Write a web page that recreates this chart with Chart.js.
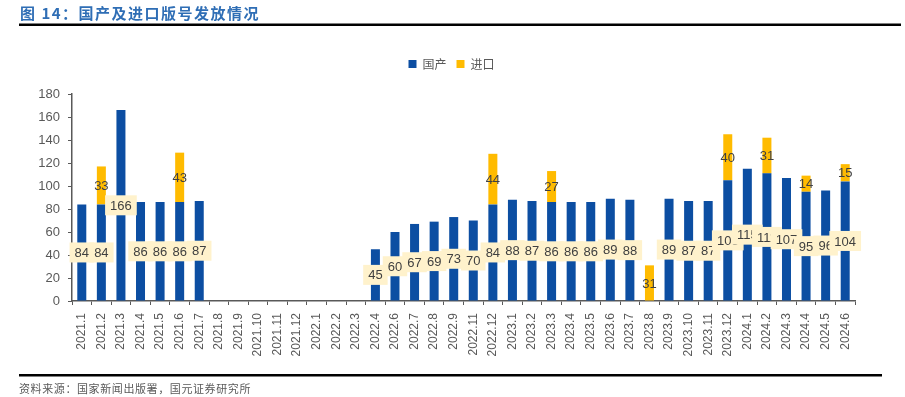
<!DOCTYPE html>
<html>
<head>
<meta charset="utf-8">
<script src="https://cdn.jsdelivr.net/npm/chart.js@4/dist/chart.umd.min.js"></script>
<style>
  html, body { margin: 0; padding: 0; background: #fff; }
  canvas { display: block; }
</style>
</head>
<body>
<canvas id="chart" width="905" height="397"></canvas>
<script>
// months shown on the x axis (2022.5 and 2022.10 are not in the source)
const months = [
    '2021.1', '2021.2', '2021.3', '2021.4', '2021.5', '2021.6', '2021.7', '2021.8', '2021.9', '2021.10', '2021.11', '2021.12',
    '2022.1', '2022.2', '2022.3', '2022.4', '2022.6', '2022.7', '2022.8', '2022.9', '2022.11', '2022.12',
    '2023.1', '2023.2', '2023.3', '2023.4', '2023.5', '2023.6', '2023.7', '2023.8', '2023.9', '2023.10', '2023.11', '2023.12',
    '2024.1', '2024.2', '2024.3', '2024.4', '2024.5', '2024.6'
];

// 国产 (domestic) licences per month
const domestic = [
    84, 84, 166, 86, 86, 86, 87, null, null, null, null, null,
    null, null, null, 45, 60, 67, 69, 73, 70, 84,
    88, 87, 86, 86, 86, 89, 88, null, 89, 87, 87, 105,
    115, 111, 107, 95, 96, 104
];

// 进口 (imported) licences per month
const imported = [
    null, 33, null, null, null, 43, null, null, null, null, null, null,
    null, null, null, null, null, null, null, null, null, 44,
    null, null, 27, null, null, null, null, 31, null, null, null, 40,
    null, 31, null, 14, null, 15
];

const yTicks = { min: 0, max: 180, step: 20 };

const FONT = "'Liberation Sans', Arial, sans-serif";
const CJK = "'Noto Sans CJK SC', 'Noto Sans', sans-serif";

// Title, rules and source line around the chart
const framePlugin = {
    id: 'frame',
    beforeDraw (chart) {
        const ctx = chart.ctx;
        ctx.save();
        ctx.fillStyle = '#ffffff';
        ctx.fillRect(0, 0, chart.width, chart.height);
        ctx.restore();
    },
    afterDraw (chart) {
        const ctx = chart.ctx;
        ctx.save();
        // title
        ctx.fillStyle = '#2F6EB5';
        ctx.font = `bold 15px ${CJK}`;
        ctx.letterSpacing = '1.5px';
        ctx.textBaseline = 'alphabetic';
        ctx.fillText('图 14：国产及进口版号发放情况', 20, 19);
        ctx.letterSpacing = '0px';
        // rules
        ctx.fillStyle = '#000000';
        ctx.fillRect(19, 23.5, 882, 2.5);
        ctx.fillRect(19, 374, 863, 2.5);
        // source
        ctx.fillStyle = '#595959';
        ctx.font = `11px ${CJK}`;
        ctx.letterSpacing = '0.6px';
        ctx.textBaseline = 'middle';
        ctx.fillText('资料来源：国家新闻出版署，国元证券研究所', 19, 389);
        ctx.restore();
    }
};

// Extra room under the legend, and legend nudged right over the plot
const legendGapPlugin = {
    id: 'legendGap',
    beforeLayout (chart) {
        const legend = chart.legend;
        if (!legend || legend._gapWrapped) return;
        const fit = legend.fit;
        legend.fit = function () {
            fit.call(this);
            this.height += 14;
        };
        legend._gapWrapped = true;
    },
    afterLayout (chart) {
        if (chart.legend) chart.legend.left += 48;
    }
};

// Value labels: domestic ones on a beige box, imported ones plain
const labelPlugin = {
    id: 'valueLabels',
    afterDatasetsDraw (chart) {
        const ctx = chart.ctx;
        ctx.save();
        ctx.font = `13px ${FONT}`;
        ctx.textAlign = 'center';
        ctx.textBaseline = 'middle';
        chart.data.datasets.forEach((ds, di) => {
            const meta = chart.getDatasetMeta(di);
            meta.data.forEach((bar, i) => {
                const v = ds.data[i];
                if (v === null || v === undefined) return;
                const cy = (bar.y + bar.base) / 2;
                const text = String(v);
                if (di === 0) {
                    const w = ctx.measureText(text).width + 10;
                    const h = 20;
                    ctx.fillStyle = '#FFF2CC';
                    ctx.fillRect(bar.x - w / 2, cy - h / 2, w, h);
                }
                ctx.fillStyle = '#404040';
                ctx.fillText(text, bar.x, cy + 1);
            });
        });
        ctx.restore();
    }
};

const chart = new Chart(document.getElementById('chart').getContext('2d'), {
    type: 'bar',
    data: {
        labels: months,
        datasets: [
            {
                label: '国产',
                data: domestic,
                backgroundColor: '#0C4EA2',
                barPercentage: 0.46,
                categoryPercentage: 1.0
            },
            {
                label: '进口',
                data: imported,
                backgroundColor: '#FFBB00',
                barPercentage: 0.46,
                categoryPercentage: 1.0
            }
        ]
    },
    options: {
        responsive: false,
        animation: false,
        devicePixelRatio: 1,
        layout: {
            padding: { top: 48, right: 50, bottom: 36, left: 0 }
        },
        plugins: {
            legend: {
                display: true,
                position: 'top',
                align: 'center',
                labels: {
                    boxWidth: 8,
                    boxHeight: 8,
                    padding: 10,
                    color: '#595959',
                    font: { family: CJK, size: 12 }
                }
            },
            tooltip: { enabled: false }
        },
        scales: {
            x: {
                stacked: true,
                grid: {
                    display: true,
                    drawOnChartArea: false,
                    drawTicks: true,
                    tickLength: 4,
                    color: '#595959',
                    offset: true
                },
                border: { display: true, color: '#595959', width: 1.5 },
                ticks: {
                    autoSkip: false,
                    minRotation: 90,
                    maxRotation: 90,
                    padding: 8,
                    color: '#595959',
                    font: { family: FONT, size: 12 }
                },
                afterFit (scale) { scale.height = 60; }
            },
            y: {
                stacked: true,
                min: yTicks.min,
                max: yTicks.max,
                grid: {
                    display: true,
                    drawOnChartArea: false,
                    drawTicks: true,
                    tickLength: 4,
                    color: '#595959'
                },
                border: { display: true, color: '#595959', width: 1.5 },
                ticks: {
                    stepSize: yTicks.step,
                    padding: 8,
                    color: '#595959',
                    font: { family: FONT, size: 13 }
                },
                afterFit (scale) { scale.width = 72; }
            }
        }
    },
    plugins: [framePlugin, legendGapPlugin, labelPlugin]
});
</script>
</body>
</html>
